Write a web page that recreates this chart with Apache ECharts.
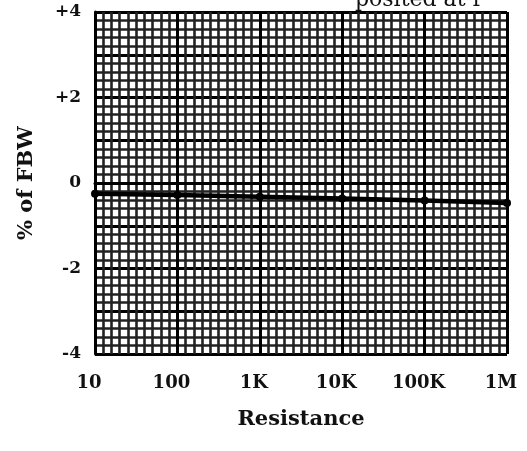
<!DOCTYPE html>
<html>
<head>
<meta charset="utf-8">
<script src="https://cdn.jsdelivr.net/npm/echarts@6/dist/echarts.min.js"></script>
<style>html,body{margin:0;padding:0;background:#fff}#c{width:527px;height:451px}</style>
</head>
<body>
<div id="c"></div>
<script>
var resistance = [10, 100, 1000, 10000, 100000, 1000000];
var percentFBW = [-0.25, -0.28, -0.32, -0.36, -0.41, -0.47];
var xTickLabels = {10: '10', 100: '100', 1000: '1K', 10000: '10K', 100000: '100K', 1000000: '1M'};
var yTickLabels = {4: '+4', 2: '+2', 0: '0', '-2': '-2', '-4': '-4'};
var titleText = 'posited at r';

var font = 'DejaVu Serif';
var chart = echarts.init(document.getElementById('c'), null, {renderer: 'canvas'});
chart.setOption({
  backgroundColor: '#fff',
  animation: false,
  title: {
    text: titleText, left: 350, top: -16,
    textStyle: {fontFamily: font, fontWeight: 'normal', fontSize: 22, color: '#111'}
  },
  grid: {left: 95, right: 20, top: 12, bottom: 97},
  xAxis: [{
    type: 'log', logBase: 10, min: 10, max: 1000000,
    name: 'Resistance', nameLocation: 'middle', nameGap: 55,
    nameTextStyle: {fontFamily: font, fontWeight: 'bold', fontSize: 21, color: '#111'},
    axisLine: {show: true, lineStyle: {color: '#000', width: 3}},
    axisTick: {show: false},
    axisLabel: {
      margin: 20, fontFamily: font, fontWeight: 'bold', fontSize: 18, color: '#111',
      padding: [0, 12, 0, 0],
      formatter: function (v) { return xTickLabels[Math.round(v)] || ''; }
    },
    splitLine: {show: false},
    minorSplitLine: {show: false}
  }, {
    // decade grid of the graph paper (evenly ruled, ten columns per decade)
    type: 'value', min: 1, max: 6, interval: 1, position: 'bottom',
    axisLine: {show: false}, axisTick: {show: false}, axisLabel: {show: false},
    splitLine: {show: true, lineStyle: {color: '#000', width: 3}},
    minorTick: {show: false, splitNumber: 10},
    minorSplitLine: {show: true, lineStyle: {color: '#222', width: 2.6}}
  }],
  yAxis: {
    type: 'value', min: -4, max: 4, interval: 1,
    name: '% of FBW', nameLocation: 'middle', nameGap: 58, nameRotate: 90,
    nameTextStyle: {fontFamily: font, fontWeight: 'bold', fontSize: 21, color: '#111'},
    axisLine: {show: true, lineStyle: {color: '#000', width: 3}},
    axisTick: {show: false},
    axisLabel: {
      margin: 14, fontFamily: font, fontWeight: 'bold', fontSize: 17, color: '#111',
      formatter: function (v) { var k = String(Math.round(v)); return yTickLabels[k] || ''; }
    },
    splitLine: {show: true, lineStyle: {color: '#000', width: 3}},
    minorTick: {show: false, splitNumber: 5},
    minorSplitLine: {show: true, lineStyle: {color: '#222', width: 2.6}}
  },
  series: [{
    type: 'line', xAxisIndex: 0,
    data: resistance.map(function (r, i) { return [r, percentFBW[i]]; }),
    symbol: 'circle', symbolSize: 8,
    itemStyle: {color: '#000'},
    lineStyle: {color: '#000', width: 4.5},
    z: 10
  }]
});
</script>
</body>
</html>
